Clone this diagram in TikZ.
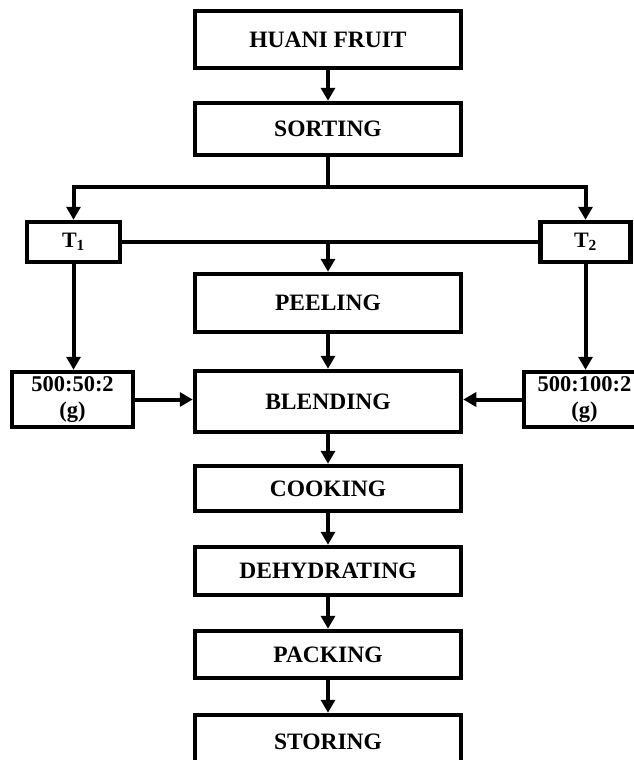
\documentclass[tikz,border=0pt]{standalone}
\usepackage{fontspec}
\setmainfont{Liberation Serif}
\usepackage{tikz}
\usetikzlibrary{arrows.meta}

\tikzset{
  stepbox/.style={draw, line width=4.5pt, minimum width=266pt, inner sep=0pt,
    font=\fontsize{23.5}{26}\selectfont\bfseries, align=center},
  sidebox/.style={stepbox, minimum width=121pt, minimum height=55pt,
    font=\fontsize{22.5}{26.5}\selectfont\bfseries},
  tbox/.style={stepbox, minimum height=40pt, font=\fontsize{22}{24}\selectfont\bfseries},
  flow/.style={line width=4pt, -{Triangle[length=13pt, width=14pt]}},
  link/.style={line width=4pt}
}

\begin{document}
\begin{tikzpicture}[x=1pt, y=-1pt]
    \useasboundingbox (0,0) rectangle (633,760);
    % main chain
    \node[stepbox, minimum height=57pt] (fruit)    at (328,39.5) {HUANI FRUIT};
    \node[stepbox, minimum height=52pt] (sorting)  at (328,129)  {SORTING};
    \node[tbox, minimum width=93pt]     (tone)     at (73.5,242) {T$_\mathbf{1}$};
    \node[tbox, minimum width=90pt]     (ttwo)     at (585.5,242) {T$_\mathbf{2}$};
    \node[stepbox, minimum height=58pt] (peeling)  at (328,303)  {PEELING};
    \node[stepbox, minimum height=61pt] (blending) at (328,401.5) {BLENDING};
    \node[sidebox] (mixone) at (72.5,399.5) {500:50:2\\(g)};
    \node[sidebox] (mixtwo) at (584.5,399.5) {500:100:2\\(g)};
    \node[stepbox, minimum height=45pt] (cooking)  at (328,488.5) {COOKING};
    \node[stepbox, minimum height=48pt] (dehyd)    at (328,571)  {DEHYDRATING};
    \node[stepbox, minimum height=47pt] (packing)  at (328,654.5) {PACKING};
    \node[stepbox, minimum height=54pt] (storing)  at (328,742)  {STORING};
    \coordinate (split) at (328,187);

    \draw[flow] (fruit) -- (sorting);
    \draw[link] (sorting.south) -- (split);
    \draw[flow] (split) -| (tone.north);
    \draw[flow] (split) -| (ttwo.north);
    \draw[link] (tone.east) -- (ttwo.west);
    \draw[flow] (tone.east -| peeling.north) -- (peeling.north);
    \draw[flow] (tone.south) -- (tone.south |- mixone.north);
    \draw[flow] (ttwo.south) -- (ttwo.south |- mixtwo.north);
    \draw[flow] (mixone.east) -- (mixone.east -| blending.west);
    \draw[flow] (mixtwo.west) -- (mixtwo.west -| blending.east);
    \draw[flow] (peeling) -- (blending);
    \draw[flow] (blending) -- (cooking);
    \draw[flow] (cooking) -- (dehyd);
    \draw[flow] (dehyd) -- (packing);
    \draw[flow] (packing) -- (storing);
\end{tikzpicture}
\end{document}
